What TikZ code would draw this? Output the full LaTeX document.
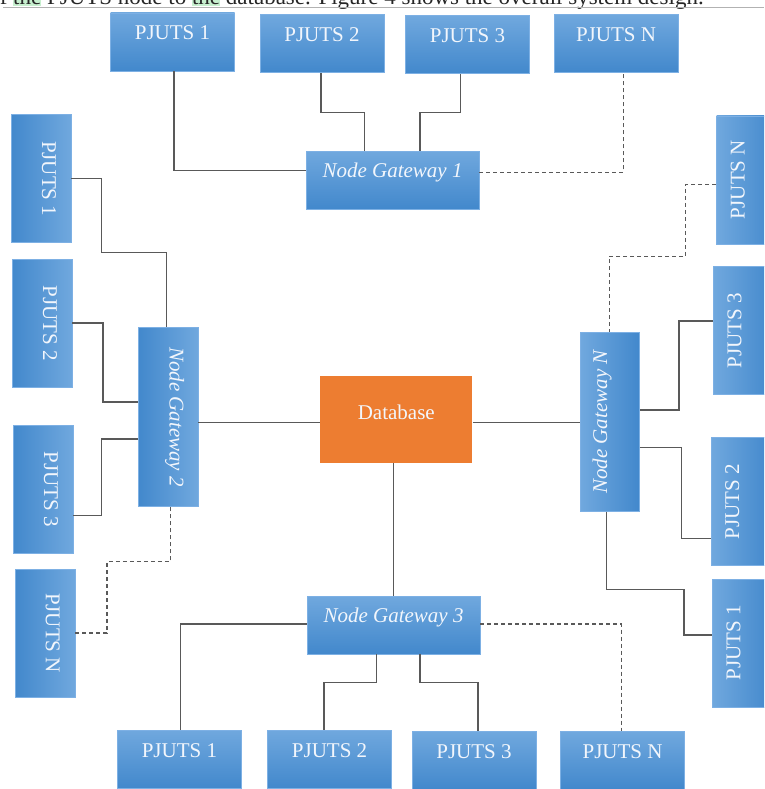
\documentclass[tikz,border=0pt]{standalone}
\usepackage{fontspec}
\usepackage{graphicx}
\setmainfont{Liberation Serif}
\usetikzlibrary{calc}
\definecolor{boxtop}{RGB}{112,168,222}
\definecolor{boxbot}{RGB}{66,136,204}
\definecolor{boxedge}{RGB}{125,176,228}
\definecolor{dborange}{RGB}{237,125,49}
\definecolor{linegray}{RGB}{89,89,89}
\definecolor{hlgreen}{RGB}{198,239,206}
\definecolor{boxtext}{RGB}{242,246,252}
\newcommand{\htext}[2][2pt]{\raisebox{#1}[0pt][0pt]{#2}}
\newcommand{\ltext}[2][1pt]{\rotatebox{-90}{\raisebox{#1}[0pt][0pt]{#2}}}
\newcommand{\rtext}[2][2pt]{\rotatebox{90}{\raisebox{#1}[0pt][0pt]{#2}}}
\newcommand{\hlw}[1]{{\setlength{\fboxsep}{0pt}\colorbox{hlgreen}{\rule[-1.5pt]{0pt}{17pt}#1}}}
\tikzset{
  basebox/.style={rectangle, inner sep=0pt, text=boxtext, font=\fontsize{21}{25}\selectfont},
  hbox/.style={basebox, top color=boxtop, bottom color=boxbot, draw=boxedge, line width=0.6pt, minimum width=124pt, minimum height=58pt},
  gwh/.style={hbox, minimum width=173pt},
  lbox/.style={basebox, left color=boxbot, right color=boxtop, draw=boxedge, line width=0.6pt, minimum width=60pt, minimum height=128pt},
  rbox/.style={basebox, left color=boxtop, right color=boxbot, draw=boxedge, line width=0.6pt, minimum width=60pt, minimum height=128pt},
  gwl/.style={lbox, minimum height=179pt},
  gwr/.style={rbox, minimum height=179pt, minimum width=58.6pt},
  dbbox/.style={basebox, fill=dborange, minimum width=152pt, minimum height=87pt},
  link/.style={draw=linegray, line width=1.4pt},
  dlink/.style={link, dash pattern=on 4pt off 3pt},
}
\begin{document}
\begin{tikzpicture}[x=1pt,y=1pt]
\useasboundingbox (0,0) rectangle (764,-789);
\begin{scope}
\clip (0,0) rectangle (764,-789);
% page fragment above the figure (cut off at the top, as in the reference)
\node[anchor=base west, inner sep=0pt, text=black!85, font=\fontsize{23}{27}\selectfont] (toptext) at (-11.9,-4.3) {of \hlw{the} PJUTS node to \hlw{the} database. Figure 4 shows the overall system design.};
\draw[black!30, line width=0.9pt] (3,-7.3) -- (764,-7.3);

% top row
\node[hbox] (tP1) at (172.5,-42) {\htext{PJUTS 1}};
\node[hbox] (tP2) at (322,-43.3) {\htext{PJUTS 2}};
\node[hbox] (tP3) at (467.5,-44.8) {\htext{PJUTS 3}};
\node[hbox] (tPN) at (616,-43.3) {\htext{PJUTS N}};
\node[gwh] (G1) at (392.5,-180) {\htext[3pt]{\itshape Node Gateway 1}};

% left column
\node[lbox] (lP1) at (41,-178.7) {\ltext{PJUTS 1}};
\node[lbox] (lP2) at (42,-323) {\ltext{PJUTS 2}};
\node[lbox] (lP3) at (43,-489.5) {\ltext{PJUTS 3}};
\node[lbox] (lPN) at (45,-633) {\ltext{PJUTS N}};
\node[gwl] (G2) at (168,-417) {\ltext[1.5pt]{\itshape Node Gateway 2}};

% right column
\node[rbox] (rPN) at (746.5,-180) {\rtext{PJUTS N}};
\node[rbox] (rP3) at (743.3,-330.5) {\rtext{PJUTS 3}};
\node[rbox] (rP2) at (741,-501.5) {\rtext{PJUTS 2}};
\node[rbox] (rP1) at (742.3,-643) {\rtext{PJUTS 1}};
\node[gwr] (GN) at (610,-422) {\rtext[3pt]{\itshape Node Gateway N}};

% centre
\node[dbbox] (DB) at (396.3,-419.4) {\htext[0pt]{Database}};

% bottom row
\node[gwh] (G3) at (393.5,-625) {\htext[3pt]{\itshape Node Gateway 3}};
\node[hbox] (bP1) at (179.4,-759) {\htext{PJUTS 1}};
\node[hbox] (bP2) at (329.6,-759) {\htext{PJUTS 2}};
\node[hbox] (bP3) at (474,-760.5) {\htext{PJUTS 3}};
\node[hbox] (bPN) at (622.6,-760.5) {\htext{PJUTS N}};

% connectors: gateway 1
\draw[link] ($(G1.west)+(0,9.3)$) -| ($(tP1.south)+(1.5,0)$);
\draw[link] ($(G1.north)+(-28.2,0)$) -- ++(0,38.4) -| ($(tP2.south)+(-1,0)$);
\draw[link] ($(G1.north)+(27.5,0)$) -- ++(0,38.4) -| ($(tP3.south)+(-6.8,0)$);
\draw[dlink] ($(G1.east)+(0,7.7)$) -| ($(tPN.south)+(7.3,0)$);
\draw[link] ($(G1.south)+(0.8,0)$) -- ($(G1.south)+(0.8,0)$ |- DB.north);

% connectors: gateway 2
\draw[link] (lP1.east) -- ++(30,0) |- ($(G2.north)+(-1.3,75)$) -- ($(G2.north)+(-1.3,0)$);
\draw[link] (lP2.east) -- ++(30.6,0) |- ($(G2.west)+(0,15)$);
\draw[link] ($(lP3.east)+(0,-26.2)$) -- ++(28,0) |- ($(G2.west)+(0,-22)$);
\draw[dlink] (lPN.east) -- ++(31.7,0) |- ($(G2.south)+(2.7,-54.7)$) -- ($(G2.south)+(2.7,0)$);
\draw[link] ($(G2.east)+(0,-5.4)$) -- ($(DB.west)+(0,-3)$);

% connectors: gateway N
\draw[link] ($(DB.east)+(0,-3)$) -- ($(GN.west)+(0,-0.4)$);
\draw[dlink] ($(rPN.west)+(0,-4.3)$) -- ++(-30.5,0) |- ($(GN.north)+(-0.7,76)$) -- ($(GN.north)+(-0.7,0)$);
\draw[link] ($(rP3.west)+(0,9.5)$) -- ++(-34,0) |- ($(GN.east)+(0,12)$);
\draw[link] ($(GN.east)+(0,-25.7)$) -- ++(41.7,0) |- ($(rP2.west)+(0,-36.8)$);
\draw[link] ($(GN.south)+(-3.3,0)$) -- ++(0,-77.6) -| ($(rP1.west)+(-28,8)$) -- ($(rP1.west)+(0,8)$);

% connectors: gateway 3
\draw[link] (G3.north) -- (G3.north |- DB.south);
\draw[link] ($(G3.west)+(0,1)$) -| ($(bP1.north)+(1,0)$);
\draw[link] ($(G3.south)+(-16.8,0)$) -- ++(0,-28.3) -| ($(bP2.north)+(-5.7,0)$);
\draw[link] ($(G3.south)+(26.5,0)$) -- ++(0,-28.3) -| ($(bP3.north)+(4,0)$);
\draw[dlink] ($(G3.east)+(0,1)$) -| ($(bPN.north)+(-1,0)$);
\end{scope}
\end{tikzpicture}
\end{document}
